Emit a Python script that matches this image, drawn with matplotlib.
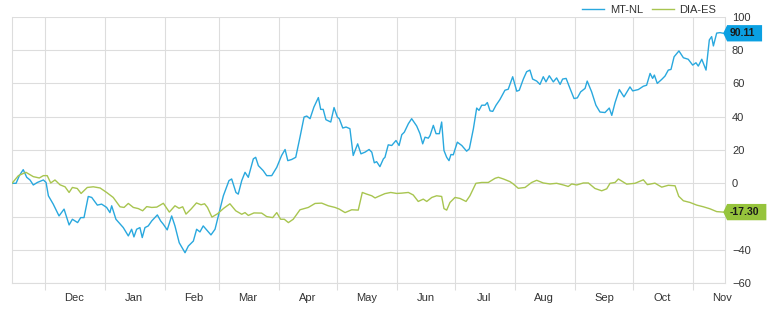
import numpy as np
import pandas as pd
import matplotlib
matplotlib.use('Agg')
import matplotlib.pyplot as plt
import matplotlib.dates as mdates
from matplotlib.lines import Line2D
from matplotlib.patches import Polygon

plt.rcParams['font.family'] = ['Liberation Sans', 'DejaVu Sans']

# data: days since start date, performance in %
start_date = '2017-11-14'

mt_days = [0.0, 2.1, 3.8, 5.8, 7.6, 9.3, 11.0, 13.1, 16.2, 17.6,
           18.8, 21.3, 24.3, 26.9, 29.5, 31.2, 33.9, 35.5, 37.2, 39.4,
           41.2, 44.1, 46.3, 48.9, 50.6, 51.5, 53.7, 57.5, 60.1, 61.8,
           63.0, 64.4, 66.1, 67.3, 68.7, 70.4, 72.2, 75.1, 76.8, 78.2,
           80.2, 82.5, 84.2, 86.4, 89.4, 91.1, 93.7, 95.4, 97.1, 98.8,
           102.8, 104.9, 106.6, 109.2, 112.1, 113.5, 115.7, 116.9, 118.7, 120.4,
           122.1, 124.7, 125.9, 127.3, 129.8, 131.6, 134.2, 136.8, 139.3, 141.1,
           142.5, 144.5, 146.6, 148.8, 150.9, 152.3, 154.0, 156.0, 158.3, 159.5,
           160.8, 162.2, 164.7, 166.4, 168.1, 169.1, 170.9, 172.6, 174.6, 176.3,
           178.6, 180.3, 182.4, 184.5, 185.9, 187.2, 188.4, 190.1, 191.9, 192.7,
           194.4, 196.2, 198.4, 200.0, 201.4, 202.7, 204.8, 206.5, 209.1, 210.8,
           212.2, 213.4, 215.1, 216.0, 217.7, 219.1, 220.8, 222.0, 223.2, 224.6,
           225.8, 226.8, 228.0, 230.1, 232.4, 234.9, 236.3, 238.4, 240.1, 241.3,
           242.7, 244.4, 245.6, 247.0, 248.4, 250.1, 252.1, 254.7, 256.4, 258.7,
           260.8, 262.1, 264.2, 265.9, 267.6, 269.0, 271.1, 272.8, 274.5, 275.9,
           277.6, 279.7, 281.4, 283.2, 284.5, 286.3, 288.3, 290.4, 292.1, 293.8,
           296.1, 297.2, 299.5, 301.7, 303.8, 306.4, 308.6, 309.9, 311.6, 313.8,
           316.2, 319.3, 320.7, 323.6, 326.2, 327.9, 329.7, 331.0, 331.9, 333.4,
           335.7, 337.4, 339.1, 340.5, 342.1, 344.6, 346.9, 349.4, 351.7, 353.4,
           354.6, 356.4, 358.6, 360.3, 361.5, 362.4, 364.1, 365.8, 367.5]
mt_vals = [0, 0, 4.6, 8.2, 3.6, 2, -1, 0.5, 2, 0.5,
           -7.5, -12.5, -19.6, -15.5, -25, -21.6, -23.6, -20.6, -20.6, -7.9,
           -8.5, -13.1, -12.5, -14.5, -17.6, -13.5, -21.6, -26.6, -31.6, -27.6,
           -32.2, -27.6, -26.6, -32.6, -26.6, -25.6, -22.6, -19, -22.6, -24.6,
           -28, -19.6, -25.6, -35.7, -41.7, -37.7, -34.7, -27.6, -29.2, -25.6,
           -31, -27.6, -19.6, -7.5, 1.6, 2.6, -5.5, -6.5, 1.6, 6.6,
           3.6, 14.7, 15.6, 10.6, 7.6, 4.6, 4.6, 9.6, 16.7, 20.3,
           13.6, 14.3, 15.6, 27.7, 39.8, 40.4, 38.8, 45.8, 51.5, 44.4,
           44.4, 38.2, 36.8, 45.5, 39.8, 38.8, 33.2, 33.8, 32.8, 16.7,
           23.7, 17.7, 18.7, 20.3, 18.7, 12.3, 13, 10, 14.7, 15.6,
           23.1, 22.7, 25.7, 22.7, 29.2, 30.7, 35.8, 38.8, 34.4, 29.8,
           23.7, 27.7, 27.1, 28.7, 34.8, 29.8, 29.8, 36.8, 19.7, 15.6,
           13.6, 17.3, 17.1, 24.7, 22.7, 19.3, 20.7, 32.8, 45.2, 43.8,
           46.9, 46.9, 48.5, 43.5, 43.2, 46.9, 50.3, 55.9, 56.5, 64,
           55.3, 55.9, 62.6, 67, 68, 62.6, 61.4, 59.4, 64, 60.9,
           64.6, 60.9, 63.3, 59.4, 62.6, 63, 57, 50.9, 51.3, 54.9,
           57, 61.4, 54.9, 46.9, 42.8, 42.5, 45.2, 40.8, 48.5, 56.3,
           51.9, 57.9, 55.5, 56.3, 58.3, 58.9, 66, 63, 65, 60,
           62.4, 64.4, 68, 68.4, 76, 79.5, 75.4, 74.5, 71, 72.4,
           70.4, 74.5, 68, 86.1, 88.1, 82.5, 90.2, 90.5, 90.11]

dia_days = [0.0, 3.3, 7.2, 11.0, 14.1, 16.2, 18.2, 20.0, 22.2, 24.8,
            27.4, 29.5, 31.2, 33.7, 35.7, 38.9, 42.0, 45.5, 48.9, 52.3,
            55.8, 57.9, 60.1, 62.7, 65.3, 67.5, 69.6, 72.2, 74.8, 78.2,
            81.3, 84.2, 86.3, 88.2, 89.9, 92.5, 95.3, 97.7, 99.5, 101.0,
            103.3, 106.2, 109.4, 112.6, 115.6, 118.7, 120.4, 122.1, 125.0, 129.0,
            131.6, 134.7, 136.8, 138.8, 140.7, 142.8, 145.3, 148.8, 153.1, 156.6,
            160.0, 163.4, 166.9, 169.1, 172.1, 175.5, 178.9, 181.0, 183.3, 185.9,
            187.6, 189.3, 192.7, 195.7, 198.8, 201.4, 204.8, 207.3, 209.9, 212.5,
            214.3, 216.9, 219.4, 222.0, 223.2, 224.6, 226.3, 228.9, 231.5, 234.6,
            236.6, 239.7, 242.7, 246.1, 249.6, 251.3, 253.9, 257.3, 259.0, 261.6,
            265.1, 268.5, 271.1, 274.5, 278.0, 281.4, 284.9, 287.4, 289.2, 291.8,
            295.2, 297.8, 301.2, 304.7, 307.3, 309.0, 311.6, 313.3, 317.6, 321.9,
            326.2, 328.3, 332.2, 335.7, 339.1, 342.6, 344.5, 346.9, 350.3, 353.8,
            357.2, 360.6, 364.1, 367.5]
dia_vals = [0, 4.6, 6.6, 4, 3.2, 4.6, 4.6, 0.2, 2, -0.9,
            -2.1, -5.5, -2.5, -3.1, -6.1, -2.5, -2.1, -2.8, -5.5, -8.5,
            -14.1, -14.5, -12.1, -14.5, -15.2, -16.5, -14, -14.5, -14.3, -12,
            -17.3, -13.5, -15, -14.1, -18.5, -15.5, -11.8, -12.9, -12.3, -14.5,
            -20.3, -18.3, -15, -12.3, -16.5, -18.6, -17.6, -19.3, -17.8, -17.9,
            -20, -20.6, -17.6, -21.6, -21.6, -23.6, -21.6, -15.9, -14.5, -12.1,
            -11.9, -13.5, -14.5, -15.5, -17.6, -15.9, -16.1, -5.5, -6.5, -7.5,
            -8.8, -7.9, -6.2, -5.5, -6.1, -5.9, -5.5, -7.0, -10.9, -9.5,
            -10.9, -8.5, -7.5, -7.9, -15.2, -16.1, -11.5, -8.5, -9.1, -10.9,
            -7.5, 0, 0.5, 0.5, 3, 3.6, 2.6, 1, -0.4, -3,
            -2.5, 0.5, 1.8, 0.2, -0.4, 0, -1, -1.9, -0.4, -1,
            0.2, 0.2, -3.1, -4.5, -3.3, 0, 0.5, 2.6, -0.5, 0,
            2.1, -0.8, 0.1, -2.3, -1.2, -1.5, -7.8, -10.5, -11.5, -13.1,
            -14.1, -15.3, -17, -17.30]

series_names = ['MT-NL', 'DIA-ES']
series_colors = ['#29a8de', '#a8c550']
tag_colors = ['#0aa0e2', '#96c43c']

month_labels = ['Dec', 'Jan', 'Feb', 'Mar', 'Apr', 'May', 'Jun',
                'Jul', 'Aug', 'Sep', 'Oct', 'Nov']
y_ticks = [-60, -40, -20, 0, 20, 40, 60, 80, 100]

grid_color = '#dddddd'
text_color = '#333333'


def to_dates(days):
    return mdates.datestr2num(start_date) + np.array(days)


fig = plt.figure(figsize=(7.7, 3.13), dpi=100)
ax = fig.add_axes([12 / 770, 1 - 283.2 / 313, 713 / 770, 266.4 / 313])

all_days = [mt_days, dia_days]
all_vals = [mt_vals, dia_vals]
for days, vals, color in zip(all_days, all_vals, series_colors):
    ax.plot(to_dates(days), vals, color=color, lw=1.0, zorder=3)

ax.set_xlim(to_dates([0, mt_days[-1] + 0.9]))
ax.set_ylim(y_ticks[0], y_ticks[-1])

# month starts = grid lines, mid month = labels
month_starts = pd.date_range('2017-12-01', periods=12, freq='MS')
ax.set_xticks(mdates.date2num(month_starts))
ax.set_xticklabels([])
ax.set_xticks(mdates.date2num(month_starts + pd.Timedelta(days=15)), minor=True)
ax.set_xticklabels(month_labels, minor=True)
ax.tick_params(axis='x', which='major', length=5, color=grid_color, width=0.8)
ax.tick_params(axis='x', which='minor', length=0, pad=7, labelsize=8,
               labelcolor=text_color)

ax.yaxis.tick_right()
ax.set_yticks(y_ticks)
ax.tick_params(axis='y', length=0, pad=5, labelsize=8, labelcolor=text_color)

ax.grid(True, which='major', color=grid_color, lw=0.8)
ax.set_axisbelow(True)
for side in ['left', 'bottom', 'right']:
    ax.spines[side].set_color(grid_color)
    ax.spines[side].set_linewidth(0.8)
ax.spines['top'].set_visible(False)

# last value tags on the right, they sit on top of the axis labels
trans = ax.get_yaxis_transform()
last_vals = [vals[-1] for vals in all_vals]
for v, color in zip(last_vals, tag_colors):
    label = '%.2f' % v
    h = 4.9
    right = 1.022 + 0.006 * len(label)
    tag = Polygon([(0.9975, v), (1.003, v + h), (right, v + h),
                   (right, v - h), (1.003, v - h)],
                  closed=True, transform=trans, facecolor=color,
                  edgecolor='none', clip_on=False, zorder=5)
    ax.add_patch(tag)
    ax.text(1.0065, v, label, transform=trans, ha='left', va='center',
            fontsize=7.5, fontweight='bold', color='#1a1a1a', zorder=6,
            clip_on=False)

for tick, lab in zip(y_ticks, ax.get_yticklabels()):
    if any(abs(tick - v) < 7 for v in last_vals):
        lab.set_visible(False)

handles = [Line2D([], [], color=c, lw=1.0) for c in series_colors]
ax.legend(handles, series_names, ncol=2, loc='center right',
          bbox_to_anchor=(722 / 770, 1 - 10 / 313), bbox_transform=fig.transFigure,
          frameon=False, fontsize=8, handlelength=2.0, handletextpad=0.5,
          columnspacing=0.8, borderpad=0, labelcolor=text_color)

fig.savefig('out.png', dpi=100)
